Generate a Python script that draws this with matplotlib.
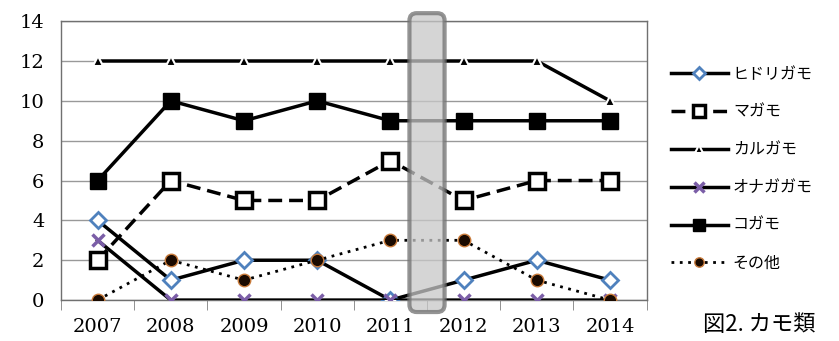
import matplotlib.pyplot as plt
from matplotlib.patches import FancyBboxPatch

plt.rcParams['font.family'] = ['Noto Sans CJK JP', 'DejaVu Sans']

anos = ['2007', '2008', '2009', '2010', '2011', '2012', '2013', '2014']
hidorigamo = [4, 1, 2, 2, 0, 1, 2, 1]
magamo = [2, 6, 5, 5, 7, 5, 6, 6]
karugamo = [12, 12, 12, 12, 12, 12, 12, 10]
onagagamo = [3, 0, 0, 0, 0, 0, 0, 0]
kogamo = [6, 10, 9, 10, 9, 9, 9, 9]
sonota = [0, 2, 1, 2, 3, 3, 1, 0]

fig = plt.figure(figsize=(8.39, 3.41), dpi=100)
ax = fig.add_axes([0.0727, 0.12, 0.698, 0.818])
x = range(len(anos))

ax.plot(x, hidorigamo, color='black', lw=2.5, marker='D', ms=8,
        mfc='white', mec='#4f81bd', mew=2, label='ヒドリガモ', zorder=3)
ax.plot(x, magamo, color='black', lw=2.5, ls=(0, (4, 2)), marker='s', ms=11,
        mfc='white', mec='black', mew=2.5, label='マガモ', zorder=3)
ax.plot(x, karugamo, color='black', lw=2.5, marker='^', ms=7,
        mfc='black', mec='white', mew=1.5, label='カルガモ', zorder=3)
ax.plot(x, onagagamo, color='black', lw=2.5, marker='x', ms=9,
        mec='#7b5ea7', mew=2.5, label='オナガガモ', zorder=3)
ax.plot(x, kogamo, color='black', lw=2.5, marker='s', ms=11,
        mfc='black', mec='black', label='コガモ', zorder=3)
ax.plot(x, sonota, color='black', lw=2, ls=(0, (1, 2)), marker='o', ms=9,
        mfc='#1a0a00', mec='#c87a3a', mew=1, label='その他', zorder=4)

ax.set_xlim(-0.5, 7.5)
ax.set_ylim(0, 14)
ax.set_yticks(range(0, 15, 2))
ax.set_xticks(list(x))
ax.set_xticklabels(anos)
ax.set_xticks([i + 0.5 for i in range(-1, 8)], minor=True)
ax.tick_params(axis='x', which='major', length=0, pad=13)
ax.tick_params(axis='x', which='minor', length=7, color='#808080')
ax.tick_params(axis='y', length=0, pad=12)
for lab in ax.get_xticklabels() + ax.get_yticklabels():
    lab.set_family('DejaVu Serif')
    lab.set_fontsize(14)
ax.grid(axis='y', color='#999999', lw=1)
for s in ax.spines.values():
    s.set_color('#707070')
    s.set_linewidth(1)
ax.set_axisbelow(True)

# caixa cinza destacando 2011-2012
caixa = FancyBboxPatch((4.26, -0.6), 0.48, 15.0,
                       boxstyle='round,pad=0,rounding_size=0.1',
                       fc='#c8c8c8', ec='#707070', lw=3, alpha=0.75,
                       clip_on=False, zorder=5, mutation_aspect=3.68)
ax.add_patch(caixa)

ax.legend(loc='center left', bbox_to_anchor=(1.03, 0.47), frameon=False,
          fontsize=11.5, handlelength=3.6, labelspacing=1.3, handletextpad=0.3,
          borderaxespad=0, markerscale=0.75)

fig.text(0.838, 0.03, '図2. カモ類', fontsize=16)

plt.savefig('out.png', dpi=100)
